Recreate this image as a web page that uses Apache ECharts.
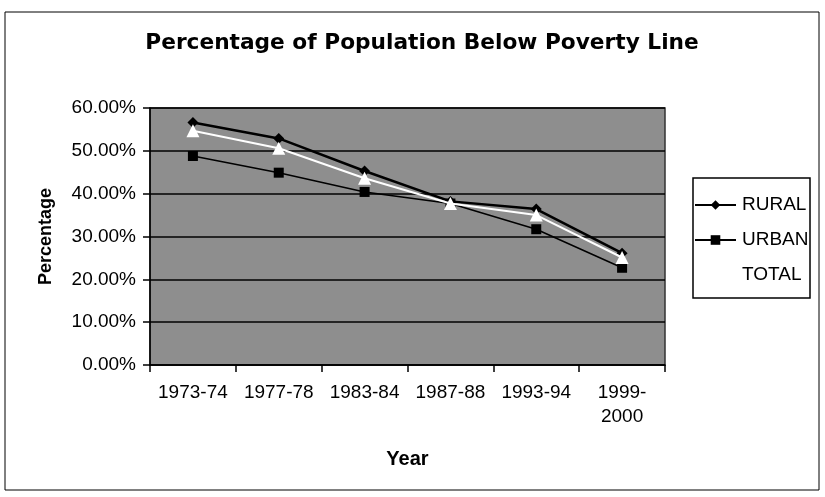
<!DOCTYPE html>
<html><head><meta charset="utf-8">
<script src="https://cdn.jsdelivr.net/npm/echarts@6/dist/echarts.min.js"></script>
<style>html,body{margin:0;padding:0;background:#fff}#c{width:825px;height:497px}</style>
</head><body><div id="c"></div>
<script>
const categories = ['1973-74','1977-78','1983-84','1987-88','1993-94','1999-\n2000'];
const rural = [56.6, 52.9, 45.3, 38.2, 36.4, 26.1];
const urban = [48.8, 44.9, 40.4, 37.7, 31.7, 22.7];
const total = [54.7, 50.6, 43.6, 37.7, 35.0, 25.1];
const yTicks = [0, 10, 20, 30, 40, 50, 60];

const chart = echarts.init(document.getElementById('c'), null, {renderer:'canvas'});
const font = '"Liberation Sans", Arial, sans-serif';
chart.setOption({
  animation: false,
  backgroundColor: '#fff',
  textStyle: {fontFamily: font},
  title: {
    text: 'Percentage of Population Below Poverty Line',
    left: 417, textAlign: 'center', top: 27,
    textStyle: {fontSize: 21.7, fontWeight: 'bold', color: '#000', fontFamily: '"DejaVu Sans", sans-serif'}
  },
  graphic: [
    {type:'rect', shape:{x:5, y:12, width:814, height:478}, style:{fill:'none', stroke:'#000', lineWidth:1}, z:-10},
    {type:'rect', shape:{x:693, y:178, width:117, height:120}, style:{fill:'#fff', stroke:'#000', lineWidth:1.5}, z:5}
  ],
  legend: {
    orient: 'vertical', left: 694, top: 195, padding: 0, itemGap: 15, itemWidth: 41, itemHeight: 12,
    data: ['RURAL','URBAN','TOTAL'],
    textStyle: {fontSize: 19, lineHeight: 20, color: '#000', fontFamily: font, padding: [0,0,0,1]},
    z: 10
  },
  grid: {left: 150, right: 160, top: 108, bottom: 132, show: true, backgroundColor: '#8e8e8e', borderColor: '#333', borderWidth: 1.5},
  xAxis: {
    type: 'category', data: categories, boundaryGap: true,
    name: 'Year', nameLocation: 'middle', nameGap: 84,
    nameTextStyle: {fontSize: 20, fontWeight: 'bold', color: '#000', fontFamily: font},
    axisLine: {lineStyle: {color: '#000', width: 1.5}},
    axisTick: {show: true, interval: 0, inside: false, length: 7, lineStyle: {color: '#000', width: 1.5}},
    axisLabel: {interval: 0, fontSize: 19, color: '#000', margin: 16, lineHeight: 24, fontFamily: font},
    splitLine: {show: false}
  },
  yAxis: {
    type: 'value', min: 0, max: 60, interval: 10,
    name: 'Percentage', nameLocation: 'middle', nameGap: 95, nameRotate: 90,
    nameTextStyle: {fontSize: 18, fontWeight: 'bold', color: '#000', fontFamily: font},
    axisLine: {show: true, lineStyle: {color: '#000', width: 1.5}},
    axisTick: {show: true, inside: false, length: 7, lineStyle: {color: '#000', width: 1.5}},
    axisLabel: {fontSize: 19, color: '#000', margin: 14, fontFamily: font,
      formatter: v => v.toFixed(2) + '%'},
    splitLine: {show: true, lineStyle: {color: '#000', width: 1.5}}
  },
  series: [
    {name:'RURAL', type:'line', data: rural, symbol:'diamond', symbolSize: 11,
      lineStyle:{color:'#000', width:2.5}, itemStyle:{color:'#000'}, z: 3},
    {name:'URBAN', type:'line', data: urban, symbol:'rect', symbolSize: 10,
      lineStyle:{color:'#000', width:1.5}, itemStyle:{color:'#000'}, z: 2},
    {name:'TOTAL', type:'line', data: total, symbol:'triangle', symbolSize: 13,
      lineStyle:{color:'#fff', width:2}, itemStyle:{color:'#fff'}, z: 4}
  ]
});
</script></body></html>
